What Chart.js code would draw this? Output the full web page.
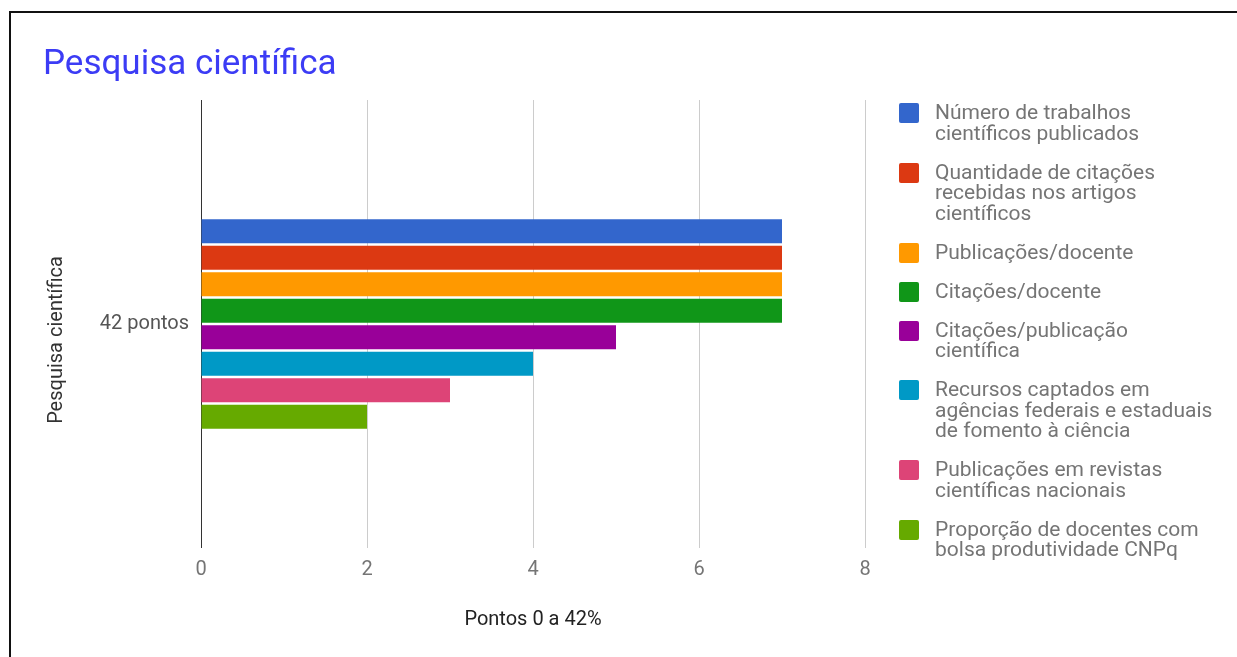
<!DOCTYPE html>
<html>
<head>
<meta charset="utf-8">
<script src="https://cdn.jsdelivr.net/npm/chart.js@4.4.1/dist/chart.umd.min.js"></script>
<style>
  html, body { margin: 0; padding: 0; background: #fff; overflow: hidden; }
  #frame { position: absolute; left: 9px; top: 11px; width: 1300px; height: 700px; border: 2px solid #111; }
  #chart { position: absolute; left: 0; top: 0; }
  #legend { position: absolute; left: 899px; top: 102px; font-family: Roboto, sans-serif; font-size: 21px; color: #757575; }
  .item { position: relative; padding-left: 36px; line-height: 20.5px; margin-bottom: 18.5px; white-space: nowrap; }
  .item .sw { position: absolute; left: 0; top: 1px; width: 20px; height: 20px; border-radius: 2px; }
</style>
</head>
<body>
<div id="frame"></div>
<canvas id="chart" width="1237" height="657"></canvas>
<div id="legend"></div>
<script>
const categories = ['42 pontos'];
const seriesNames = [
  ['Número de trabalhos', 'científicos publicados'],
  ['Quantidade de citações', 'recebidas nos artigos', 'científicos'],
  ['Publicações/docente'],
  ['Citações/docente'],
  ['Citações/publicação', 'científica'],
  ['Recursos captados em', 'agências federais e estaduais', 'de fomento à ciência'],
  ['Publicações em revistas', 'científicas nacionais'],
  ['Proporção de docentes com', 'bolsa produtividade CNPq']
];
const seriesValues = [7, 7, 7, 7, 5, 4, 3, 2];
const seriesColors = ['#3366cc', '#dc3912', '#ff9900', '#109618', '#990099', '#0099c6', '#dd4477', '#66aa00'];
const xMin = 0, xMax = 8, xStep = 2;

const legend = document.getElementById('legend');
seriesNames.forEach(function (lines, i) {
  const item = document.createElement('div');
  item.className = 'item';
  const sw = document.createElement('span');
  sw.className = 'sw';
  sw.style.background = seriesColors[i];
  item.appendChild(sw);
  lines.forEach(function (line, j) {
    if (j > 0) item.appendChild(document.createElement('br'));
    item.appendChild(document.createTextNode(line));
  });
  legend.appendChild(item);
});

const ctx = document.getElementById('chart').getContext('2d');
new Chart(ctx, {
  type: 'bar',
  data: {
    labels: categories,
    datasets: seriesValues.map(function (v, i) {
      return {
        label: seriesNames[i].join(' '),
        data: [v],
        backgroundColor: seriesColors[i],
        borderWidth: 0,
        categoryPercentage: 0.473,
        barPercentage: 0.91
      };
    })
  },
  options: {
    indexAxis: 'y',
    responsive: false,
    animation: false,
    layout: { padding: { left: 43, right: 372, top: 0, bottom: 0 } },
    plugins: {
      legend: { display: false },
      tooltip: { enabled: false },
      title: {
        display: true,
        text: 'Pesquisa científica',
        align: 'start',
        color: '#3c3cf5',
        font: { family: 'Roboto', size: 35, weight: 'normal' },
        padding: { top: 44, bottom: 14 }
      }
    },
    scales: {
      x: {
        min: xMin,
        max: xMax,
        ticks: { stepSize: xStep, color: '#757575', padding: 10, font: { family: 'Roboto', size: 20 } },
        grid: {
          drawTicks: false,
          color: function (c) { return c.tick && c.tick.value === 0 ? '#333' : '#cccccc'; }
        },
        border: { display: false },
        title: {
          display: true,
          text: 'Pontos 0 a 42%',
          color: '#222',
          font: { family: 'Roboto', size: 20 },
          padding: { top: 0, bottom: 25 }
        },
        afterFit: function (scale) { scale.height = 109; }
      },
      y: {
        ticks: { color: '#555', padding: 12, font: { family: 'Roboto', size: 20 } },
        grid: { display: false, drawTicks: false },
        border: { display: false },
        title: {
          display: true,
          text: 'Pesquisa científica',
          color: '#333',
          font: { family: 'Roboto', size: 20 },
          padding: { top: 2, bottom: 0 }
        },
        afterFit: function (scale) {
          scale.width = 158;
          // the axis title sits a little below the middle of the plot in the original
          if (!scale._titleShifted) {
            const base = scale.drawTitle;
            scale.drawTitle = function () {
              this.ctx.save();
              this.ctx.translate(0, 16);
              base.call(this);
              this.ctx.restore();
            };
            scale._titleShifted = true;
          }
        }
      }
    }
  }
});
</script>
</body>
</html>
